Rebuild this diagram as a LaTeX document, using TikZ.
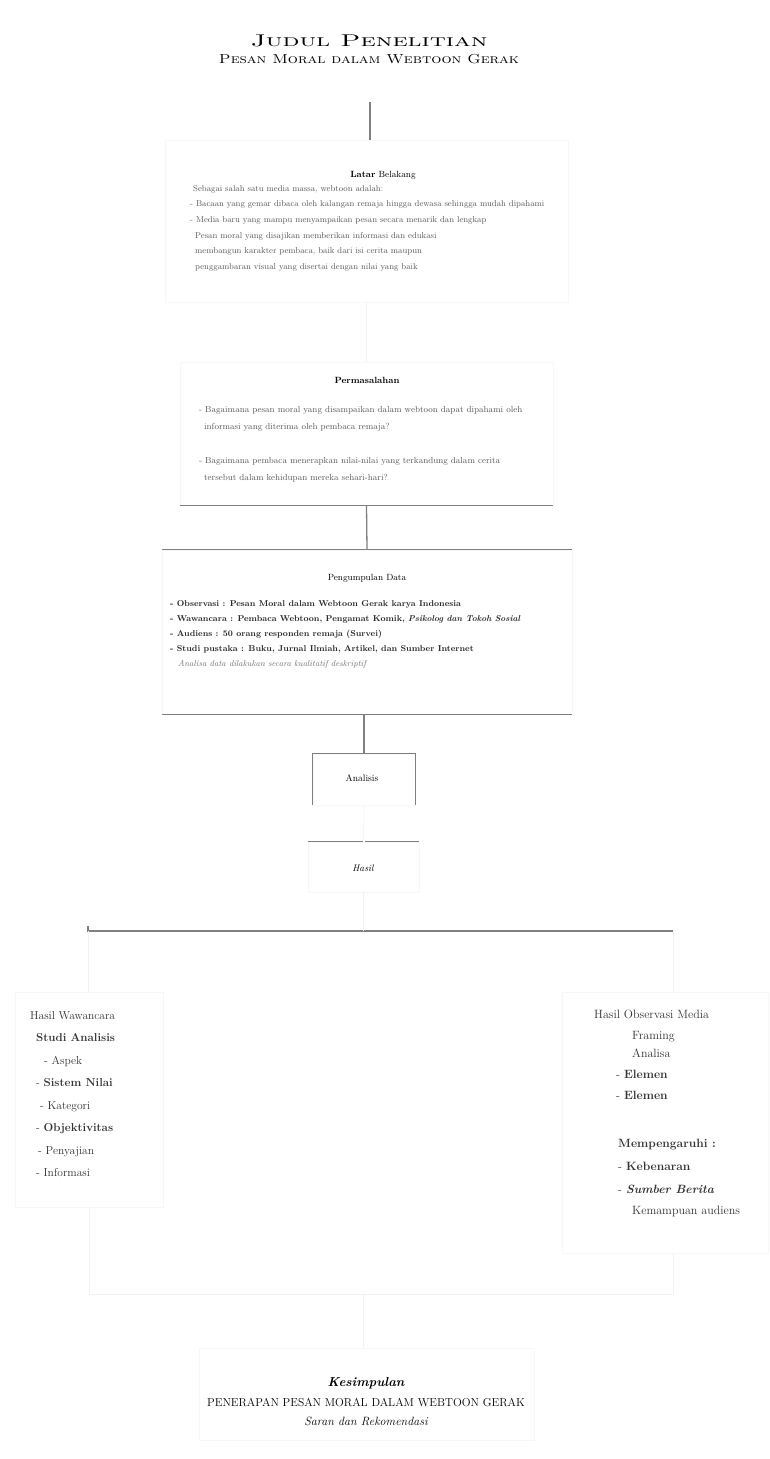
\documentclass[tikz,border=0pt]{standalone}
\usepackage{graphicx}
\usetikzlibrary{positioning}
\tikzset{
  frame/.style={draw=black!3, line width=0.5pt, inner sep=0pt},
  vis/.style={draw=black!50, line width=1.3pt},
  faint/.style={draw=black!5, line width=0.5pt},
  body/.style={font=\fontsize{8.5}{15.7}\selectfont, text=black!65, align=left, inner sep=0pt},
  items/.style={font=\fontsize{8.5}{15}\selectfont\bfseries, text=black!85, align=left, inner sep=0pt},
  col/.style={font=\fontsize{11.5}{22.5}\selectfont, text=black!80, align=left, inner sep=0pt},
  head/.style={font=\fontsize{9}{11}\selectfont, inner sep=0pt},
}
\begin{document}
\begin{tikzpicture}[x=1pt,y=-1pt]
\useasboundingbox[fill=white] (0,0) rectangle (770,1459);

% title
\node[font=\fontsize{17}{19}\selectfont\scshape, inner sep=0pt] (t1) at (369,41) {\scalebox{1.6}[1]{Judul Penelitian}};
\node[font=\fontsize{13}{15}\selectfont\scshape, inner sep=0pt] (t2) at (369,59) {\scalebox{1.22}[1]{Pesan Moral dalam Webtoon Gerak}};
\coordinate (t2b) at (370,102);

% frames
\node[frame, minimum width=403pt, minimum height=162pt] (lb) at (366.5,221) {};
\node[frame, minimum width=373pt, minimum height=143pt] (perm) at (366.5,433.5) {};
\node[frame, minimum width=410pt, minimum height=164pt] (pd) at (367,632) {};
\node[frame, minimum width=102pt, minimum height=51pt] (ana) at (364,779.5) {};
\node[frame, minimum width=111pt, minimum height=50pt] (hasil) at (363.5,867) {};
\node[frame, minimum width=148pt, minimum height=215pt] (lc) at (89,1099.5) {};
\node[frame, minimum width=206pt, minimum height=261pt] (rc) at (665,1122.5) {};
\node[frame, minimum width=335pt, minimum height=92pt] (kes) at (367,1394) {};

% visible lines
\draw[vis] (t2b) -- (t2b |- lb.north);
\draw[vis] (perm.south west) -- (perm.south east);
\draw[vis] (perm.south) -- (pd.north);
\draw[vis] (pd.north west) -- (pd.north east);
\draw[vis] (pd.south west) -- (pd.south east);
\draw[vis] (pd.south -| ana.north) -- (ana.north);
\draw[vis] (ana.south west) -- (ana.north west) -- (ana.north east) -- (ana.south east);
\draw[vis] (hasil.north west) -- ([xshift=-1pt]hasil.north);
\draw[vis] ([xshift=1pt]hasil.north) -- (hasil.north east);

% branch
\coordinate (bl) at (88,931);
\coordinate (bc) at (363.5,931);
\coordinate (br) at (673,931);
\draw[vis] ([yshift=5pt]bl) -- (bl) -- (br);
\draw[faint] (lb.south) -- (perm.north);
\draw[faint] (ana.south) -- (hasil.north);
\draw[faint] (hasil.south) -- (bc);
\draw[faint] (bl) -- (bl |- lc.north);
\draw[faint] (br) -- (br |- rc.north);
\coordinate (ml) at (89,1294);
\coordinate (mr) at (673,1294);
\coordinate (mc) at (363,1294);
\draw[faint] (lc.south) -- (ml) -- (mr) -- (mr |- rc.south);
\draw[faint] (mc) -- (mc |- kes.north);

% Latar belakang
\node[head] (lbh) at (383,175) {\textbf{Latar} Belakang};
\node[body, anchor=north west] (lbt) at (190,185) {
\hspace{3pt}Sebagai salah satu media massa, webtoon adalah:\\
- Bacaan yang gemar dibaca oleh kalangan remaja hingga dewasa sehingga mudah dipahami\\
- Media baru yang mampu menyampaikan pesan secara menarik dan lengkap\\
\hspace{5pt}Pesan moral yang disajikan memberikan informasi dan edukasi\\
\hspace{5pt}membangun karakter pembaca, baik dari isi cerita maupun\\
\hspace{5pt}penggambaran visual yang disertai dengan nilai yang baik};

% Permasalahan
\node[head, font=\fontsize{9}{11}\selectfont\bfseries] (permh) at (367,380) {Permasalahan};
\node[body, anchor=north west, font=\fontsize{8.8}{17}\selectfont] (permt) at (199,406) {
- Bagaimana pesan moral yang disampaikan dalam webtoon dapat dipahami oleh\\
\hspace{5pt}informasi yang diterima oleh pembaca remaja?\\[17pt]
- Bagaimana pembaca menerapkan nilai-nilai yang terkandung dalam cerita\\
\hspace{5pt}tersebut dalam kehidupan mereka sehari-hari?};

% Pengumpulan data
\node[head] (pdh) at (367,578) {Pengumpulan Data};
\node[items, anchor=north west] (pdt) at (170,600) {
- Observasi : Pesan Moral dalam Webtoon Gerak karya Indonesia\\
- Wawancara : Pembaca Webtoon, Pengamat Komik, \textit{Psikolog dan Tokoh Sosial}\\
- Audiens : 50 orang responden remaja (Survei)\\
- Studi pustaka : Buku, Jurnal Ilmiah, Artikel, dan Sumber Internet\\
\mdseries\itshape\color{black!55}\hspace{8pt}Analisa data dilakukan secara kualitatif deskriptif};

% Analisis / Hasil
\node[head, font=\fontsize{9.5}{11}\selectfont] (anat) at (362,778) {Analisis};
\node[head, font=\fontsize{9.5}{11}\selectfont\itshape] (hasilt) at (363,868) {Hasil};

% left column
\node[col, anchor=north west] (lct) at (30,1011) {
Hasil Wawancara\\
\hspace{6pt}\textbf{Studi Analisis}\\
\hspace{14pt}- Aspek\\
\hspace{6pt}- \textbf{Sistem Nilai}\\
\hspace{10pt}- Kategori\\
\hspace{6pt}- \textbf{Objektivitas}\\
\hspace{8pt}- Penyajian\\
\hspace{6pt}- Informasi};

% right column
\node[col, anchor=north west, font=\fontsize{12}{21}\selectfont] (rct) at (594,1010) {
Hasil Observasi Media\\
\hspace{38pt}Framing\\[-3pt]
\hspace{38pt}Analisa\\
\hspace{22pt}- \textbf{Elemen}\\
\hspace{22pt}- \textbf{Elemen}};
\node[col, anchor=north west, font=\fontsize{12}{23}\selectfont] (rct2) at (618,1139) {
\textbf{Mempengaruhi :}\\
- \textbf{Kebenaran}\\
- \textbf{\textit{Sumber Berita}}\\[-2pt]
\hspace{14pt}Kemampuan audiens};

% kesimpulan
\node[head, font=\fontsize{13}{15}\selectfont\bfseries\itshape] (kest) at (366,1383) {Kesimpulan};
\node[head, font=\fontsize{11.5}{13}\selectfont] (kes2) at (366,1402) {PENERAPAN PESAN MORAL DALAM WEBTOON GERAK};
\node[head, font=\fontsize{12}{14}\selectfont\itshape] (kes3) at (366,1421) {Saran dan Rekomendasi};
\end{tikzpicture}
\end{document}
